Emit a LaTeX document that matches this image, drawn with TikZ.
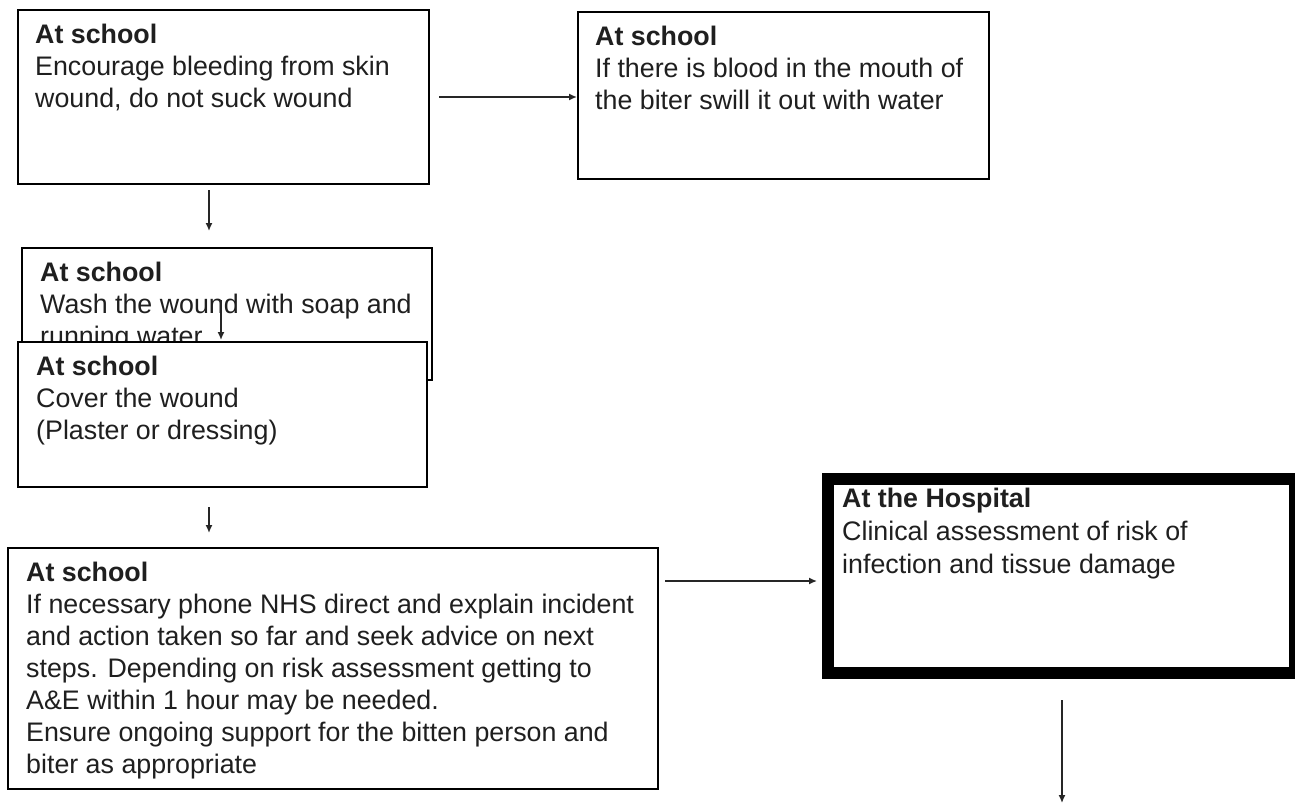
\documentclass[tikz,border=0pt]{standalone}
\usepackage{fontspec}
\setmainfont{Liberation Sans}
\usetikzlibrary{arrows.meta}
\newcommand{\topstrut}{\vrule height 24pt depth 0pt width 0pt}
\begin{document}
\begin{tikzpicture}[x=1pt,y=-1pt,
  box/.style={draw=black, line width=2pt, fill=white, rectangle, inner sep=0pt, anchor=north west},
  txt/.style={anchor=north west, inner sep=0pt, align=left, font=\fontsize{26.8}{32}\selectfont, text=black!88},
  arr/.style={draw=black!85, line width=1.5pt, -{Latex[length=8pt,width=7pt]}}]
\useasboundingbox (0,0) rectangle (1295,804);
\fill[white] (0,0) rectangle (1295,804);

% box 1
\node[box, minimum width=411pt, minimum height=174pt] (b1) at (17,9) {};
\node[txt] (t1) at (35,19) {\topstrut\textbf{At school}\\Encourage bleeding from skin\\wound, do not suck wound};
% box 2
\node[box, minimum width=411pt, minimum height=167pt] (b2) at (577,11) {};
\node[txt] (t2) at (595,21) {\topstrut\textbf{At school}\\If there is blood in the mouth of\\the biter swill it out with water};
% box 3
\node[box, minimum width=410pt, minimum height=132pt] (b3) at (21,247) {};
\node[txt] (t3) at (40,257) {\topstrut\textbf{At school}\\Wash the wound with soap and\\running water};
% box 4
\node[box, minimum width=409pt, minimum height=145pt] (b4) at (17,341) {};
\node[txt] (t4) at (36,351) {\topstrut\textbf{At school}\\Cover the wound\\(Plaster or dressing)};
% box 5
\node[box, minimum width=650pt, minimum height=241pt] (b5) at (7,547) {};
\node[txt] (t5) at (26,557) {\topstrut\textbf{At school}\\If necessary phone NHS direct and explain incident\\and action taken so far and seek advice on next\\steps. Depending on risk assessment getting to\\A\&E within 1 hour may be needed.\\Ensure ongoing support for the bitten person and\\biter as appropriate};
% hospital
\node[box, line width=12pt, minimum width=467pt, minimum height=194pt] (h) at (822,473) {};
\node[txt, font=\fontsize{26.8}{33}\selectfont] (th) at (842,483) {\topstrut\textbf{At the Hospital}\\Clinical assessment of risk of\\infection and tissue damage};

% connectors
\coordinate (cA) at (209,0);
\coordinate (cB) at (221,0);
\coordinate (cC) at (0,581);
\coordinate (cD) at (1062,0);
\coordinate (hend) at (1062,803);
\draw[arr, shorten <=9pt] (b1.east) -- (b1.east -| b2.west);
\draw[arr, shorten <=5pt, shorten >=16pt] (cA |- b1.south) -- (cA |- b3.north);
\draw[arr, shorten <=53pt, shorten >=1pt] (cB |- b3.north) -- (cB |- b4.north);
\draw[arr, shorten <=19pt, shorten >=14pt] (cA |- b4.south) -- (cA |- b5.north);
\draw[arr, shorten <=6pt, shorten >=5pt] (cC -| b5.east) -- (cC -| h.west);
\draw[arr, shorten <=21pt] (cD |- h.south) -- (hend);
\end{tikzpicture}
\end{document}
